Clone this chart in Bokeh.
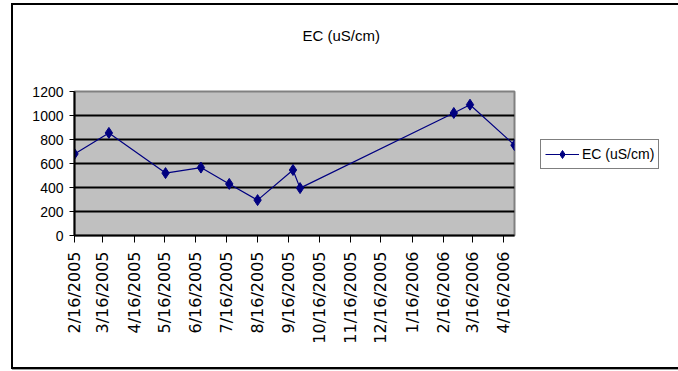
import math
from datetime import datetime
from bokeh.plotting import figure
from bokeh.models import Range1d, FixedTicker, Legend, LegendItem, Title
from bokeh.embed import file_html
from bokeh.resources import INLINE

# ---- data ----
sample_dates = ["2005-02-16", "2005-03-22", "2005-05-17", "2005-06-21", "2005-07-19",
                "2005-08-16", "2005-09-20", "2005-09-27", "2006-02-26", "2006-03-14",
                "2006-04-27"]
ec_values = [680, 855, 520, 566, 430, 295, 546, 395, 1021, 1090, 753]
tick_dates = ["2005-02-16", "2005-03-16", "2005-04-16", "2005-05-16", "2005-06-16",
              "2005-07-16", "2005-08-16", "2005-09-16", "2005-10-16", "2005-11-16",
              "2005-12-16", "2006-01-16", "2006-02-16", "2006-03-16", "2006-04-16"]
tick_labels = ["2/16/2005", "3/16/2005", "4/16/2005", "5/16/2005", "6/16/2005",
               "7/16/2005", "8/16/2005", "9/16/2005", "10/16/2005", "11/16/2005",
               "12/16/2005", "1/16/2006", "2/16/2006", "3/16/2006", "4/16/2006"]
y_ticks = [0, 200, 400, 600, 800, 1000, 1200]
grid_ticks = [200, 400, 600, 800, 1000]
series_name = "EC (uS/cm)"
title_text = "EC (uS/cm)"

EPOCH = datetime(1970, 1, 1)
def to_dt(s):
    return datetime.strptime(s, "%Y-%m-%d")
def to_ms(s):
    return (to_dt(s) - EPOCH).total_seconds() * 1000.0

xs = [to_dt(s) for s in sample_dates]
tick_ms = [to_ms(s) for s in tick_dates]

FONT = "Liberation Sans"
NAVY = "#000080"

p = figure(x_axis_type="datetime",
           frame_width=440, frame_height=144,
           min_border_left=61, min_border_right=154,
           min_border_top=86, min_border_bottom=132,
           x_range=Range1d(start=xs[0], end=xs[-1]),
           y_range=Range1d(start=0, end=1200),
           output_backend="svg", toolbar_location=None)

p.styles = {"border": "2px solid #000000", "margin-left": "11px", "margin-top": "3px",
            "box-shadow": "1px 1px 0 #a0a0a0"}
p.background_fill_color = "#C0C0C0"
p.border_fill_color = "white"
p.outline_line_color = "#808080"
p.outline_line_width = 2

# grid
p.xgrid.visible = False
p.ygrid.ticker = FixedTicker(ticks=grid_ticks)
p.ygrid.grid_line_color = "#000000"
p.ygrid.grid_line_width = 2

# y axis
p.yaxis.ticker = FixedTicker(ticks=y_ticks)
p.yaxis.major_label_text_font = FONT
p.yaxis.major_label_text_font_size = "14px"
p.yaxis.major_label_text_color = "#000000"
p.yaxis.major_tick_out = 5
p.yaxis.major_tick_in = 0
p.yaxis.minor_tick_out = 0
p.yaxis.minor_tick_in = 0
p.yaxis.major_label_standoff = 6
p.yaxis.axis_line_color = "#000000"
p.yaxis.axis_line_width = 2

# x axis
p.xaxis.ticker = FixedTicker(ticks=tick_ms)
p.xaxis.major_label_overrides = {t: l for t, l in zip(tick_ms, tick_labels)}
p.xaxis.major_label_orientation = math.pi / 2
p.xaxis.major_label_text_font = "DejaVu Sans"
p.xaxis.major_label_text_font_size = "16px"
p.xaxis.major_label_text_color = "#000000"
p.xaxis.major_tick_out = 7
p.xaxis.major_tick_in = 0
p.xaxis.minor_tick_out = 0
p.xaxis.minor_tick_in = 0
p.xaxis.major_label_standoff = 9
p.xaxis.axis_line_color = "#000000"
p.xaxis.axis_line_width = 2

# series
ln = p.line(xs, ec_values, line_color=NAVY, line_width=1.2)
sc = p.scatter(xs, ec_values, marker="diamond", size=11,
               fill_color=NAVY, line_color=NAVY)

legend = Legend(items=[LegendItem(label=series_name, renderers=[ln, sc])],
                location=(26, 66))
legend.label_text_font = FONT
legend.label_text_font_size = "14px"
legend.label_text_color = "#000000"
legend.border_line_color = "#000000"
legend.border_line_width = 1
legend.background_fill_color = "white"
legend.background_fill_alpha = 1
legend.padding = 4
legend.margin = 0
legend.glyph_width = 34
legend.label_standoff = 3
legend.spacing = 0
p.add_layout(legend, "right")

# spacer panel (nearest the frame) then the real title above it
spacer = Title(text=" ", standoff=29, text_font=FONT, text_font_size="15px")
p.add_layout(spacer, "above")
title = Title(text=title_text, align="left", offset=228, standoff=0,
              text_font=FONT, text_font_size="15px", text_font_style="normal",
              text_color="#000000")
p.add_layout(title, "above")

open("out.html", "w").write(file_html(p, INLINE))
